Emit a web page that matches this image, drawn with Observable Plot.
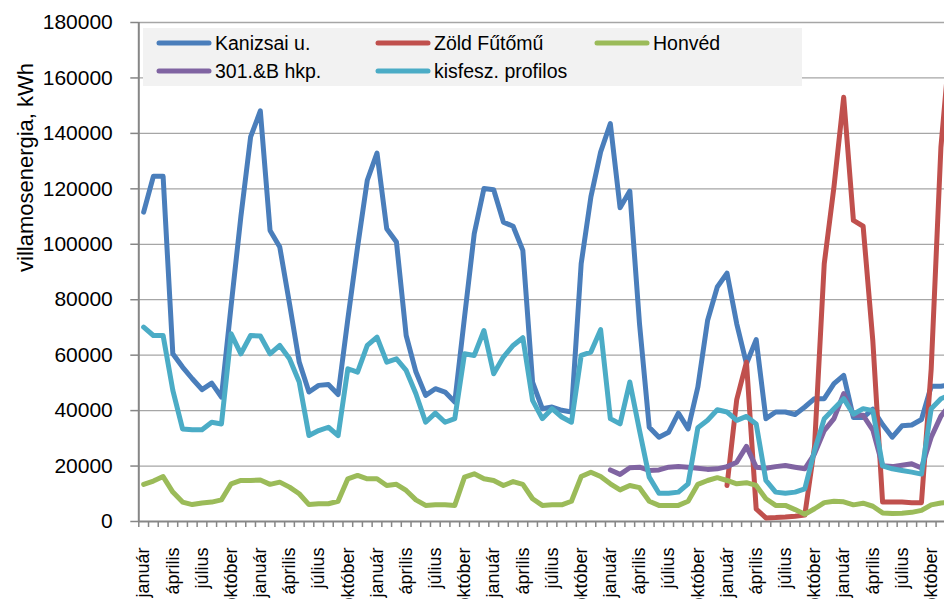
<!DOCTYPE html>
<html><head><meta charset="utf-8">
<script src="https://cdn.jsdelivr.net/npm/d3@7"></script>
<script src="https://cdn.jsdelivr.net/npm/@observablehq/plot@0.6"></script>
<style>
html,body{margin:0;padding:0;overflow:hidden;background:#fff;width:944px;height:599px}
#wrap{position:relative;width:955px;height:620px}
.legend{position:absolute;left:143px;top:28px;width:659px;height:58px;background:#f2f2f2;font-family:"Liberation Sans",Arial,sans-serif;font-size:19.5px;color:#000}
.item{position:absolute;display:flex;align-items:center;height:24px;white-space:nowrap}
.item svg{display:block;margin-right:3px}
</style></head><body><div id="wrap"></div>
<script>
const monthNames = ["január","február","március","április","május","június","július","augusztus","szeptember","október","november","december"];
const seriesNames = ["Kanizsai u.","Zöld Fűtőmű","Honvéd","301.&B hkp.","kisfesz. profilos"];
const seriesColors = ["#4a7ebb","#c0504d","#9bbb59","#8064a2","#4bacc6"];
const yTicks = [0,20000,40000,60000,80000,100000,120000,140000,160000,180000];
const nMonths = 84;

const kanizsai = [111600,124500,124500,60500,55700,51500,47600,49900,44900,78000,110000,138700,
  148100,105000,99000,78600,57500,46700,49100,49400,45800,73000,99000,123100,
  132900,105600,100800,67100,54000,45500,47900,46700,43100,73700,103800,120100,
  119700,108000,106500,97800,50300,40700,41300,40100,39500,93000,117100,133300,
  143500,113200,119200,71300,34000,30400,32200,39100,33400,48500,72500,84600,
  89600,71300,56900,65600,37100,39500,39500,38600,41300,44300,44300,49700,
  52700,37500,37500,40500,35000,30400,34500,34800,36800,48800,48800,49400];
const zoldFutomu = [null,null,null,null,null,null,null,null,null,null,null,null,
  null,null,null,null,null,null,null,null,null,null,null,null,
  null,null,null,null,null,null,null,null,null,null,null,null,
  null,null,null,null,null,null,null,null,null,null,null,null,
  null,null,null,null,null,null,null,null,null,null,null,null,
  13000,44000,57500,4500,1300,1400,1600,1900,2300,27000,93000,120700,
  153000,108600,106500,65000,7000,7000,7000,6800,6800,55000,135000,175000];
const honved = [13400,14600,16200,10600,7000,6100,6700,7000,7800,13600,14800,14800,
  15000,13400,14200,12400,10000,6100,6400,6400,7300,15400,16600,15400,
  15400,13000,13400,11200,7800,5800,6000,6000,5800,16000,17200,15400,
  14800,13000,14400,13400,8200,5800,6000,6000,7300,16200,17800,16200,
  13600,11400,13000,12200,7300,5800,5800,5800,7300,13400,14800,15800,
  14800,13600,14000,13000,8200,5800,5800,4300,2600,4600,6800,7300,
  7100,6000,6600,5500,3100,2900,3000,3300,4000,6000,6700,6900];
const hkp301 = [null,null,null,null,null,null,null,null,null,null,null,null,
  null,null,null,null,null,null,null,null,null,null,null,null,
  null,null,null,null,null,null,null,null,null,null,null,null,
  null,null,null,null,null,null,null,null,null,null,null,null,
  18600,17000,19400,19600,18400,18600,19600,19800,19600,19200,18800,19000,
  19800,21400,27100,19600,19200,19800,20200,19600,19000,24400,32800,37100,
  46100,38300,38300,33000,20100,19800,20300,20800,19300,30400,38000,42500];
const kisfesz = [70100,67100,67100,47300,33400,33100,33100,35800,35200,67700,60500,67100,
  66900,60500,63500,58700,50300,31000,32800,34000,31000,55100,53900,63500,
  66500,57500,58700,54500,46100,35800,39100,35800,37100,60500,59900,68900,
  53300,59300,63500,66300,43700,37100,40700,37700,35800,59900,61100,69200,
  37100,35200,50300,32800,16000,10200,10200,10600,13600,33800,36500,40300,
  39500,36500,37900,35200,14800,10600,10200,10600,11800,25600,37100,40700,
  44300,38700,40700,40000,20100,19000,18400,17800,17100,40700,44300,45800];

const series = [kanizsai, zoldFutomu, honved, hkp301, kisfesz];
const idx = d3.range(nMonths);
const labelTicks = idx.filter(i => i % 3 === 0);
const boundaries = d3.range(nMonths + 1).map(i => i - 0.5);

const lineMarks = series.map((arr, s) =>
  Plot.line(idx.filter(i => arr[i] != null), {
    x: i => i, y: i => arr[i],
    stroke: seriesColors[s], strokeWidth: 5,
    strokeLinejoin: "round", strokeLinecap: "round"
  }));

const chart = Plot.plot({
  width: 955, height: 620,
  marginLeft: 138.3, marginRight: 0, marginTop: 22, marginBottom: 99,
  style: {fontFamily: "'Liberation Sans', Arial, sans-serif", fontSize: "21px", color: "#000", background: "transparent", overflow: "visible"},
  x: {domain: [-0.5, nMonths - 0.5]},
  y: {domain: [0, 180000]},
  marks: [
    Plot.gridY(yTicks.slice(1), {stroke: "#a6a6a6", strokeOpacity: 1, strokeWidth: 1.3}),
    Plot.axisY(yTicks, {tickSize: 8, tickPadding: 18, fontSize: 21, tickFormat: d3.format("d"), stroke: "#868686", strokeWidth: 1.5, label: null}),
    Plot.axisX(boundaries, {tickSize: 6, tickFormat: () => "", stroke: "#868686", strokeWidth: 1.5, label: null}),
    Plot.axisX(labelTicks, {tickSize: 0, tickPadding: 26, tickRotate: -90, fontSize: 18, tickFormat: i => monthNames[i % 12], label: null}),
    Plot.ruleX([-0.5], {stroke: "#868686", strokeWidth: 2}),
    Plot.ruleY([0], {stroke: "#868686", strokeWidth: 2}),
    Plot.text(["villamosenergia, kWh"], {frameAnchor: "left", rotate: -90, dx: -113, fontSize: 22, fill: "#000"}),
    ...lineMarks
  ]
});

const wrap = document.getElementById("wrap");
wrap.appendChild(chart);

const legend = document.createElement("div");
legend.className = "legend";
const pos = [[13,3],[232,3],[451,3],[13,31],[232,31]];
seriesNames.forEach((name, s) => {
  const it = document.createElement("div");
  it.className = "item";
  it.style.left = pos[s][0] + "px";
  it.style.top = pos[s][1] + "px";
  it.innerHTML = `<svg width="56" height="8"><line x1="3" y1="4" x2="53" y2="4" stroke="${seriesColors[s]}" stroke-width="5" stroke-linecap="round"/></svg><span></span>`;
  it.querySelector("span").textContent = name;
  legend.appendChild(it);
});
wrap.appendChild(legend);
</script>
</body></html>
